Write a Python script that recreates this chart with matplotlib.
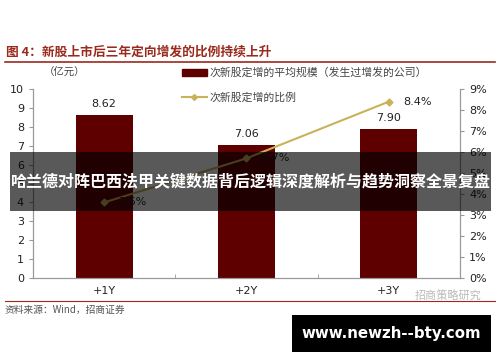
import matplotlib.pyplot as plt
from matplotlib.patches import Rectangle
from matplotlib.lines import Line2D
from matplotlib.patches import Patch

plt.rcParams['font.family'] = ['Noto Sans CJK SC', 'DejaVu Sans']

categories = ['+1Y', '+2Y', '+3Y']
avg_size = [8.62, 7.06, 7.90]          # 亿元
ratio = [3.6, 5.7, 8.4]                # %
left_ticks = list(range(0, 11))
right_ticks = list(range(0, 10))

title = '图 4：新股上市后三年定向增发的比例持续上升'
bar_label = '次新股定增的平均规模（发生过增发的公司）'
line_label = '次新股定增的比例'
source = '资料来源：Wind，招商证券'
banner = '哈兰德对阵巴西法甲关键数据背后逻辑深度解析与趋势洞察全景复盘'
site = 'www.newzh--bty.com'

bar_color = '#5e0000'
line_color = '#c9b25a'
red = '#9a2a1c'

fig = plt.figure(figsize=(5.0, 3.62), dpi=100)
fig.patch.set_facecolor('white')
ax = fig.add_axes([0.066, 0.232, 0.854, 0.522])
ax2 = ax.twinx()

x = range(len(categories))
ax.bar(x, avg_size, width=0.4, color=bar_color, zorder=2)
for i, v in enumerate(avg_size):
    ax.text(i, v + 0.3, '%.2f' % v, ha='center', va='bottom', fontsize=8,
            color='#222222', family='DejaVu Sans')
ax.set_xlim(-0.5, 2.5)
ax.set_ylim(0, 10)
ax.set_yticks(left_ticks)
ax.set_xticks(list(x))
ax.set_xticklabels(categories, fontsize=8, color='#222222', family='DejaVu Sans')
ax.set_xticks([0.5, 1.5], minor=True)
ax.tick_params(axis='x', which='major', length=0, pad=6)
ax.tick_params(axis='x', which='minor', length=3, direction='in', color='#999999')
ax.tick_params(axis='y', labelsize=8, length=3, color='#999999', labelcolor='#222222')
for t in ax.get_yticklabels():
    t.set_family('DejaVu Sans')

ax2.plot(x, ratio, color=line_color, lw=1.5, marker='D', ms=3.5,
         markerfacecolor=line_color, zorder=3)
for i, v in enumerate(ratio):
    ax2.text(i + 0.1, v, '%.1f%%' % v, ha='left', va='center', fontsize=8,
             color='#222222', family='DejaVu Sans')
ax2.set_ylim(0, 9)
ax2.set_yticks(right_ticks)
ax2.set_yticklabels(['%d%%' % t for t in right_ticks], family='DejaVu Sans')
ax2.tick_params(axis='y', labelsize=8, length=3, color='#999999', labelcolor='#222222')

for a in (ax, ax2):
    a.spines['top'].set_visible(False)
    for s in ('left', 'right', 'bottom'):
        a.spines[s].set_color('#999999')
        a.spines[s].set_linewidth(0.8)

handles = [Patch(color=bar_color, label=bar_label),
           Line2D([], [], color=line_color, lw=1.5, marker='D', ms=3, label=line_label)]
fig.legend(handles=handles, loc='upper left', bbox_to_anchor=(0.355, 0.825),
           frameon=False, fontsize=7.8, labelcolor='#444444', handlelength=2.3,
           handleheight=0.7, labelspacing=1.35, handletextpad=0.3, borderaxespad=0)

fig.text(0.012, 0.855, title, fontsize=9.2, color=red, fontweight='bold', va='center')
fig.add_artist(Line2D([0.01, 0.99], [0.829, 0.829], color=red, lw=1.2))
fig.text(0.088, 0.798, '（亿元）', fontsize=7.5, color='#444444', va='center')

fig.add_artist(Line2D([0.01, 0.99], [0.168, 0.168], color=red, lw=0.8))
fig.text(0.01, 0.143, source, fontsize=7, color='#555555', va='center')
fig.text(0.83, 0.183, '招商策略研究', fontsize=8, color='#bbbbbb', va='center')

fig.add_artist(Rectangle((0.02, 0.417), 0.962, 0.163, transform=fig.transFigure,
                         facecolor='black', alpha=0.65, edgecolor='none', zorder=5))
fig.text(0.501, 0.499, banner, fontsize=11.5, color='white', fontweight='bold',
         ha='center', va='center', zorder=6)

fig.add_artist(Rectangle((0.584, 0.028), 0.398, 0.102, transform=fig.transFigure,
                         facecolor='black', edgecolor='none', zorder=5))
fig.text(0.783, 0.078, site, fontsize=10.8, color='white', fontweight='bold',
         family='DejaVu Sans', ha='center', va='center', zorder=6)

fig.savefig('out.png', dpi=100)
